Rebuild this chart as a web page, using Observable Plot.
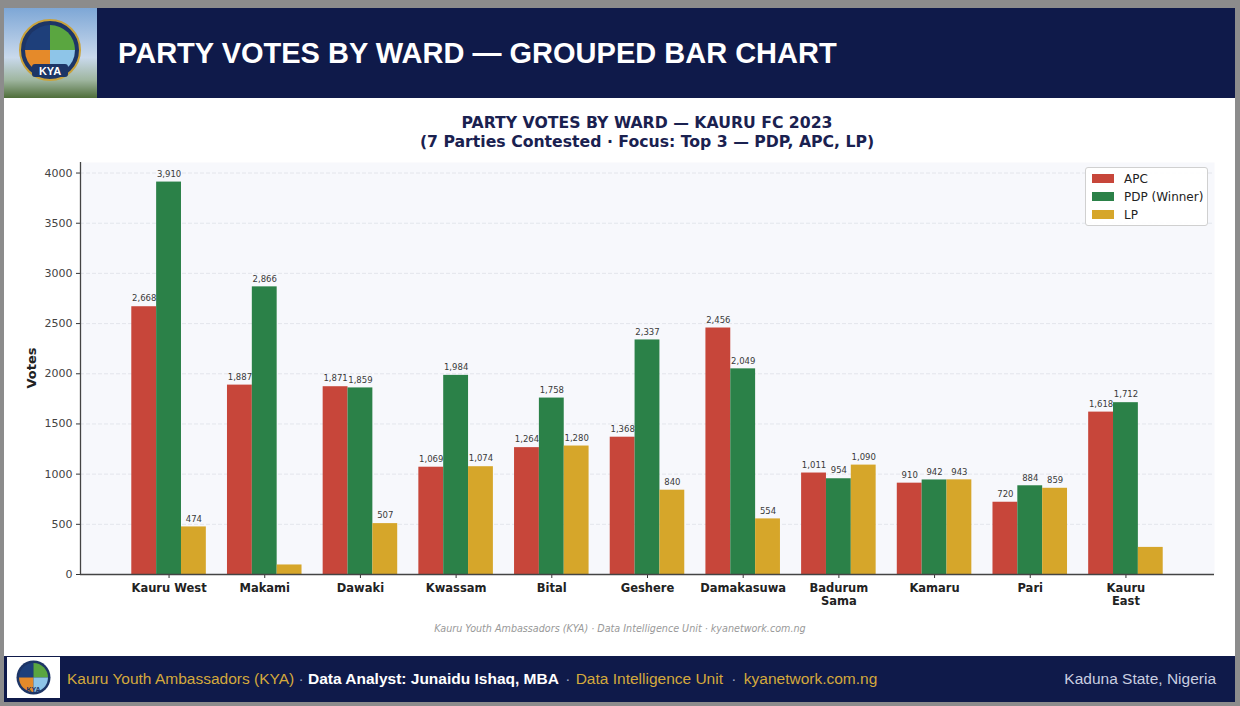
<!DOCTYPE html>
<html><head><meta charset="utf-8">
<script src="https://cdn.jsdelivr.net/npm/d3@7"></script>
<script src="https://cdn.jsdelivr.net/npm/@observablehq/plot@0.6"></script>
<style>
html,body{margin:0;padding:0;}
body{width:1240px;height:706px;background:#8c8c8c;position:relative;overflow:hidden;font-family:"Liberation Sans",Arial,sans-serif;}
.abs{position:absolute;}
#header{left:4px;top:8px;width:1231px;height:90px;background:#0f1a4a;}
#htitle{left:118px;top:37px;color:#fff;font-weight:bold;font-size:29px;line-height:32px;white-space:nowrap;}
#panel{left:4px;top:98px;width:1231px;height:558px;background:#fff;}
#footer{left:4px;top:656px;width:1231px;height:46px;background:#0f1a4a;}
#flogo{left:7px;top:657px;width:53px;height:41px;background:#fff;}
#ftext{left:67px;top:670px;font-size:15.5px;line-height:18px;white-space:pre;color:#d4a93c;}
#ftext b{color:#fff;}
#ftext .sep{color:#9aa3c0;}
#fright{right:24px;top:670px;font-size:15.5px;line-height:18px;color:#c9cee0;white-space:nowrap;}
#ctitle{left:80px;width:1134px;top:114px;text-align:center;font-family:"DejaVu Sans";font-weight:bold;font-size:15.7px;line-height:18.5px;color:#1a2150;}
#chart{left:0;top:150px;width:1240px;height:462px;}
#chart svg{position:absolute;left:0;top:0;}
#ylab{left:31px;top:368px;transform:translate(-50%,-50%) rotate(-90deg);font-family:"DejaVu Sans";font-weight:bold;font-size:13px;color:#222;white-space:nowrap;}
#caption{left:0;width:1240px;top:623px;text-align:center;font-family:"DejaVu Sans";font-style:italic;font-size:9.6px;color:#999;}
#legend{left:1085px;top:167px;width:121px;height:57px;background:rgba(255,255,255,0.92);border:1px solid #d0d0d0;border-radius:3px;font-family:"DejaVu Sans";font-size:12px;color:#222;}
.lrow{position:absolute;left:6px;height:14px;line-height:14px;white-space:nowrap;}
.lsw{display:inline-block;width:22px;height:9px;vertical-align:middle;margin-right:10px;position:relative;top:-1px;}
</style></head>
<body>
<div id="header" class="abs">
  <svg class="abs" style="left:0;top:0" width="93" height="90" viewBox="0 0 93 90">
    <defs>
      <linearGradient id="sky" x1="0" y1="0" x2="0" y2="1">
        <stop offset="0" stop-color="#7ea7d6"/><stop offset="0.55" stop-color="#c9d9ec"/><stop offset="0.8" stop-color="#9fb6a0"/><stop offset="1" stop-color="#4f6e3a"/>
      </linearGradient>
    </defs>
    <rect width="93" height="90" fill="url(#sky)"/>
    <circle cx="46" cy="42" r="30" fill="#1d3566" stroke="#c9a23a" stroke-width="2"/>
    <path d="M46 42 L46 17 A25 25 0 0 0 21 42 Z" fill="#1e3f7a"/>
    <path d="M46 42 L71 42 A25 25 0 0 0 46 17 Z" fill="#5aa640"/>
    <path d="M46 42 L21 42 A25 25 0 0 0 30 61 L46 61 Z" fill="#e58a2a"/>
    <path d="M46 42 L46 61 L62 61 A25 25 0 0 0 71 42 Z" fill="#8ec5e8"/>
    <rect x="28" y="56" width="36" height="13" rx="3" fill="#1d3566"/>
    <text x="46" y="66.5" text-anchor="middle" font-family="Liberation Sans" font-weight="bold" font-size="11" fill="#fff">KYA</text>
  </svg>
</div>
<div id="htitle" class="abs">PARTY VOTES BY WARD — GROUPED BAR CHART</div>
<div id="panel" class="abs"></div>
<div id="ctitle" class="abs">PARTY VOTES BY WARD — KAURU FC 2023<br>(7 Parties Contested · Focus: Top 3 — PDP, APC, LP)</div>
<div id="chart" class="abs"></div>
<div id="ylab" class="abs">Votes</div>
<div id="legend" class="abs"></div>
<div id="caption" class="abs">Kauru Youth Ambassadors (KYA) · Data Intelligence Unit · kyanetwork.com.ng</div>
<div id="footer" class="abs"></div>
<div id="flogo" class="abs">
  <svg width="53" height="41" viewBox="0 0 53 41">
    <circle cx="26.5" cy="20.5" r="17" fill="#1d3566"/>
    <path d="M26.5 20.5 L26.5 6 A14.5 14.5 0 0 0 12 20.5 Z" fill="#1e3f7a"/>
    <path d="M26.5 20.5 L41 20.5 A14.5 14.5 0 0 0 26.5 6 Z" fill="#5aa640"/>
    <path d="M26.5 20.5 L12 20.5 A14.5 14.5 0 0 0 26.5 35 Z" fill="#e58a2a"/>
    <path d="M26.5 20.5 L26.5 35 A14.5 14.5 0 0 0 41 20.5 Z" fill="#8ec5e8"/>
    <text x="26.5" y="35" text-anchor="middle" font-family="Liberation Sans" font-weight="bold" font-size="7" fill="#1d3566">KYA</text>
  </svg>
</div>
<div id="ftext" class="abs">Kauru Youth Ambassadors (KYA)<span class="sep"> · </span><b>Data Analyst: Junaidu Ishaq, MBA</b><span class="sep" style="padding:0 1px 0 2px"> · </span>Data Intelligence Unit<span class="sep" style="padding:0 3px 0 4px"> · </span>kyanetwork.com.ng</div>
<div id="fright" class="abs">Kaduna State, Nigeria</div>

<script>
const wards = ["Kauru West","Makami","Dawaki","Kwassam","Bital","Geshere","Damakasuwa","Badurum\nSama","Kamaru","Pari","Kauru\nEast"];
const parties = ["APC","PDP (Winner)","LP"];
const partyColors = ["#c7463a","#2b8148","#d6a62a"];
const apcVotes = [2668,1887,1871,1069,1264,1368,2456,1011,910,720,1618];
const pdpVotes = [3910,2866,1859,1984,1758,2337,2049,954,942,884,1712];
const lpVotes  = [474,95,507,1074,1280,840,554,1090,943,859,270];
const yTicks = [0,500,1000,1500,2000,2500,3000,3500,4000];

const series = [apcVotes, pdpVotes, lpVotes];
const rows = wards.flatMap((w, i) => parties.map((p, k) => ({ward: w, party: p, votes: series[k][i]})));
const fmt = d3.format(",");

const dims = {width: 1240, height: 462, marginLeft: 80, marginRight: 26, marginTop: 12, marginBottom: 38};
const yScale = {domain: [0, 4105]};

// Background layer: plot area, grid, y axis
const back = Plot.plot({
  ...dims,
  style: {fontFamily: "DejaVu Sans", background: "transparent", overflow: "visible"},
  x: {domain: [0, 1], axis: null},
  y: {...yScale, axis: null},
  marks: [
    Plot.frame({fill: "#f7f8fc"}),
    Plot.ruleY(yTicks.slice(1), {stroke: "#e1e3ea", strokeDasharray: "4,2", strokeWidth: 0.9}),
    Plot.axisY(yTicks, {anchor: "left", tickSize: 4, tickPadding: 4, fontSize: 11, fill: "#444", stroke: "#333", tickFormat: d3.format("d"), label: null})
  ]
});

// Foreground layer: grouped bars, value labels, ward axis
const front = Plot.plot({
  ...dims,
  style: {fontFamily: "DejaVu Sans", background: "transparent", overflow: "visible"},
  fx: {domain: wards, paddingInner: 0.221, paddingOuter: 0.536, round: false, label: null},
  x: {domain: parties, padding: 0, round: false, axis: null},
  y: {...yScale, axis: null},
  color: {domain: parties, range: partyColors},
  marks: [
    Plot.barY(rows, {fx: "ward", x: "party", y: "votes", fill: "party"}),
    Plot.text(rows.filter(d => d.votes >= 300), {fx: "ward", x: "party", y: "votes", text: d => fmt(d.votes), dy: -8, fontSize: 8.5, fill: "#3a3a3a"}),
    Plot.axisFx({anchor: "bottom", tickSize: 4, tickPadding: 4, fontSize: 11.5, fontWeight: "bold", fill: "#222", stroke: "#333", lineHeight: 1.12, label: null})
  ]
});

// Spines drawn on top
const spines = Plot.plot({
  ...dims,
  style: {background: "transparent", overflow: "visible"},
  x: {domain: [0, 1], axis: null},
  y: {...yScale, axis: null},
  marks: [
    Plot.ruleY([0], {stroke: "#444", strokeWidth: 1.3}),
    Plot.ruleX([0], {stroke: "#444", strokeWidth: 1.3})
  ]
});

const holder = document.getElementById("chart");
holder.appendChild(back);
holder.appendChild(front);
holder.appendChild(spines);

const legend = document.getElementById("legend");
parties.forEach((p, k) => {
  const r = document.createElement("div");
  r.className = "lrow";
  r.style.top = (4 + k * 18) + "px";
  r.innerHTML = `<span class="lsw" style="background:${partyColors[k]}"></span>${p}`;
  legend.appendChild(r);
});
</script>
</body></html>
